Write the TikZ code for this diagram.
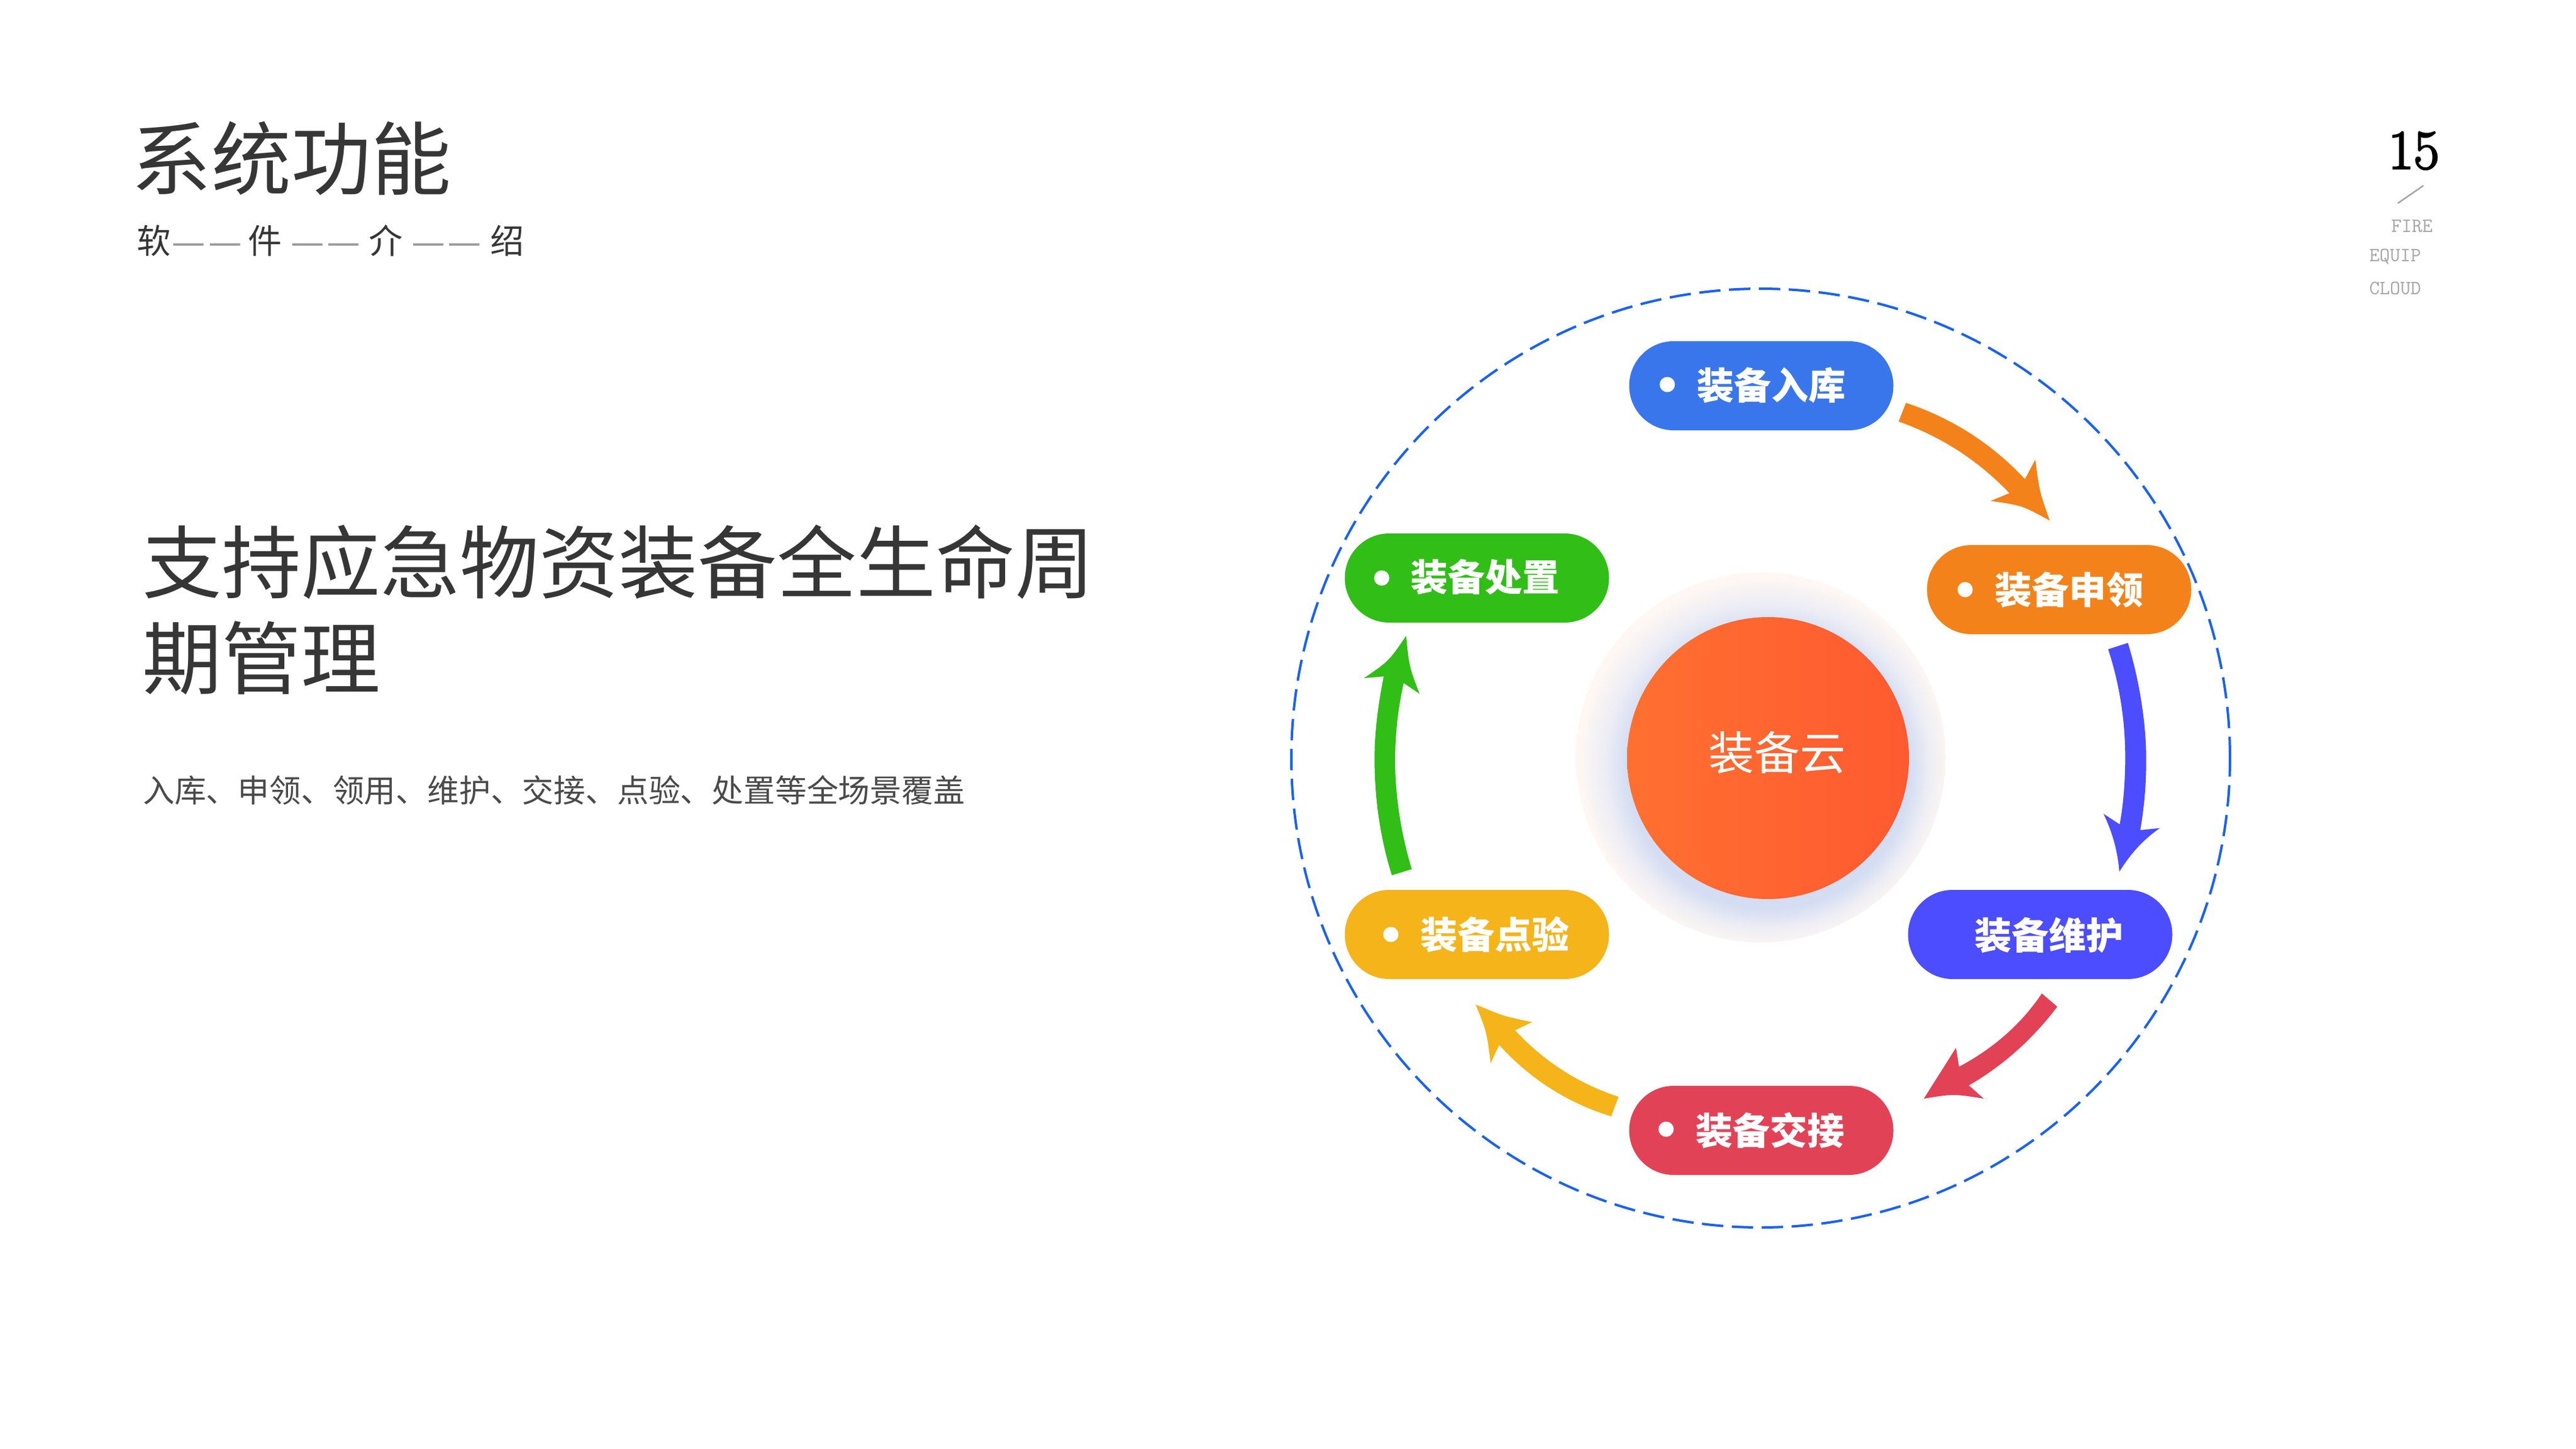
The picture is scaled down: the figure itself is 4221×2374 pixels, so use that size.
\documentclass[tikz,border=0pt]{standalone}
\usepackage{fontspec}
\newfontfamily\cjk{Noto Sans CJK SC}
\newfontfamily\pagefont[FakeBold=3]{Latin Modern Roman}
\definecolor{ink}{HTML}{363636}
\definecolor{softink}{HTML}{4A4A4A}
\definecolor{dashgrey}{HTML}{999999}
\definecolor{capgrey}{HTML}{A5A5A5}
\definecolor{ringblue}{HTML}{1A62F0}
\definecolor{cblue}{HTML}{3A76EB}
\definecolor{corange}{HTML}{F4821A}
\definecolor{cpurple}{HTML}{4B4DFF}
\definecolor{cred}{HTML}{E24256}
\definecolor{cyellow}{HTML}{F4B41A}
\definecolor{cgreen}{HTML}{30BE17}
\pgfdeclareradialshading{glowshade}{\pgfpoint{3bp}{-4bp}}{%
  rgb(0bp)=(0.82,0.86,0.95);
  rgb(19bp)=(0.83,0.865,0.95);
  rgb(22bp)=(0.93,0.93,0.96);
  rgb(25bp)=(0.995,0.97,0.955);
  rgb(30bp)=(0.998,0.975,0.96)}
\pgfdeclarehorizontalshading{coreshade}{100bp}{%
  rgb(0bp)=(1,0.44,0.19);
  rgb(25bp)=(1,0.44,0.19);
  rgb(75bp)=(1,0.353,0.19);
  rgb(100bp)=(1,0.353,0.19)}
\newcommand{\subdash}{{\fontsize{62}{62}\selectfont\color{dashgrey}\raisebox{-3pt}{—\hspace{4pt}—}}}
\tikzset{
  pill/.style={rectangle,rounded corners=72.9pt,minimum width=433pt,minimum height=146pt,inner sep=0pt,draw=none},
  bullet/.style={circle,fill=white,minimum size=25pt,inner sep=0pt},
  pilltext/.style={text=white,inner sep=0pt,font=\cjk\bfseries\fontsize{61}{61}\selectfont},
  cjktext/.style={text=ink,inner sep=0pt,anchor=west},
  monotext/.style={inner sep=0pt,anchor=west,text=capgrey,font=\ttfamily\fontsize{33}{33}\selectfont},
  blockarrow/.style={draw=none}
}
\begin{document}
\begin{tikzpicture}[x=1pt,y=-1pt]
\useasboundingbox (0,0) rectangle (4221,2374);
\fill[white] (0,0) rectangle (4221,2374);
% header
\node[cjktext,font=\cjk\fontsize{131}{131}\selectfont] (title) at (215,260) {系统功能};
\node[cjktext,font=\cjk\fontsize{55.5}{55.5}\selectfont] (subtitle) at (224,394) {软\hspace{2pt}\subdash\hspace{10pt}件\hspace{14pt}\subdash\hspace{14pt}介\hspace{14pt}\subdash\hspace{14pt}绍};
\node[cjktext,font=\cjk\fontsize{130}{157}\selectfont,align=left] (headline) at (233,999) {支持应急物资装备全生命周\\期管理};
\node[cjktext,text=softink,font=\cjk\fontsize{51.8}{51.8}\selectfont] (desc) at (234,1295) {入库、申领、领用、维护、交接、点验、处置等全场景覆盖};
% page mark
\node[inner sep=0pt,text=black,font=\pagefont\fontsize{91}{91}\selectfont] (page) at (3955,247) {15};
\coordinate (slashA) at (3929,333);
\coordinate (slashB) at (3971,304);
\draw[capgrey,line width=2.5pt] (slashA) -- (slashB);
\node[monotext] (fire) at (3918,371) {FIRE};
\node[monotext] (equip) at (3882,421) {EQUIP};
\node[monotext] (cloud) at (3882,472) {CLOUD};
% ring
\node[circle,draw=ringblue,line width=4pt,dash pattern=on 35pt off 14pt,minimum size=1538pt,inner sep=0pt] (ring) at (2885,1242) {};
% core
\node[circle,minimum size=606pt,inner sep=0pt,shading=glowshade] (glow) at (2885,1241) {};
\node[circle,minimum size=462pt,inner sep=0pt,shading=coreshade,shading angle=0] (core) at (2897,1242) {};
\node[inner sep=0pt,text=white,font=\cjk\fontsize{75}{75}\selectfont] (coretext) at (2911.5,1233) {装备云};
% pills
\node[pill,fill=cblue]   (p1) at (2886,632)  {};
\node[pill,fill=corange] (p2) at (3374,966)  {};
\node[pill,fill=cpurple] (p3) at (3343,1531) {};
\node[pill,fill=cred]    (p4) at (2886,1852) {};
\node[pill,fill=cyellow] (p5) at (2420,1531) {};
\node[pill,fill=cgreen]  (p6) at (2420,947)  {};
\node[bullet] (b1) at (2732,630)  {};
\node[bullet] (b2) at (3220,966)  {};
\node[bullet] (b4) at (2730,1850) {};
\node[bullet] (b5) at (2279,1531) {};
\node[bullet] (b6) at (2264,947)  {};
\node[pilltext] (t1) at (2902,631)  {装备入库};
\node[pilltext] (t2) at (3390.5,966) {装备申领};
\node[pilltext] (t3) at (3357,1532) {装备维护};
\node[pilltext] (t4) at (2900,1852) {装备交接};
\node[pilltext] (t5) at (2449,1531) {装备点验};
\node[pilltext] (t6) at (2433,945)  {装备处置};
% block arrows
\fill[corange,blockarrow] (3123,660) .. controls (3198.8,685.3) and (3263.8,726.9) .. (3318,785) -- (3335,753)
  .. controls (3342,806) .. (3358.6,852.8) .. controls (3313,828) .. (3261.8,820.7)
  -- (3292.6,808) .. controls (3241.4,754.3) and (3180.9,715.2) .. (3111,690.6) -- cycle;
\fill[cpurple,blockarrow] (3454.3,1063.7) -- (3486.7,1053.3)
  .. controls (3507,1120) and (3517,1190) .. (3516.7,1247)
  .. controls (3516.5,1290) and (3513,1325) .. (3507,1360) -- (3539.3,1356.7)
  .. controls (3512,1375) and (3490,1400) .. (3472.7,1428.3)
  .. controls (3470,1395) and (3462,1365) .. (3446.7,1333.3) -- (3473.3,1350.7)
  .. controls (3479,1320) and (3482.5,1280) .. (3482.3,1237)
  .. controls (3482,1180) and (3473,1120) .. (3454.3,1063.7) -- cycle;
\fill[cred,blockarrow] (3345.7,1627.7) .. controls (3312.2,1677.4) and (3267,1717.4) .. (3210,1747.7) -- (3205,1716.7)
  -- (3152.3,1800) .. controls (3201,1792) .. (3250.7,1800) -- (3226,1778.3)
  .. controls (3281.7,1746.2) and (3330,1703.2) .. (3371,1649.3) -- cycle;
\fill[cyellow,blockarrow] (2652,1797) .. controls (2586.2,1775.2) and (2529.7,1738.9) .. (2482.5,1688) -- (2510.5,1674.5)
  .. controls (2464,1665) .. (2418,1645.8) .. controls (2436,1690) .. (2442.5,1742)
  -- (2456.5,1711.8) .. controls (2506.9,1767.7) and (2568.1,1806.7) .. (2640,1829) -- cycle;
\fill[cgreen,blockarrow] (2313.3,1424) .. controls (2295,1365) and (2286,1300) .. (2286,1246.7)
  .. controls (2286,1200) and (2291,1160) .. (2300,1119) -- (2326,1136.7)
  .. controls (2309,1092) .. (2304,1041.7) .. controls (2276,1083) .. (2235,1111)
  -- (2267.3,1108.3) .. controls (2258,1155) and (2252.3,1200) .. (2252.3,1243)
  .. controls (2252.3,1310) and (2262,1375) .. (2280.7,1434) -- cycle;
\end{tikzpicture}
\end{document}
